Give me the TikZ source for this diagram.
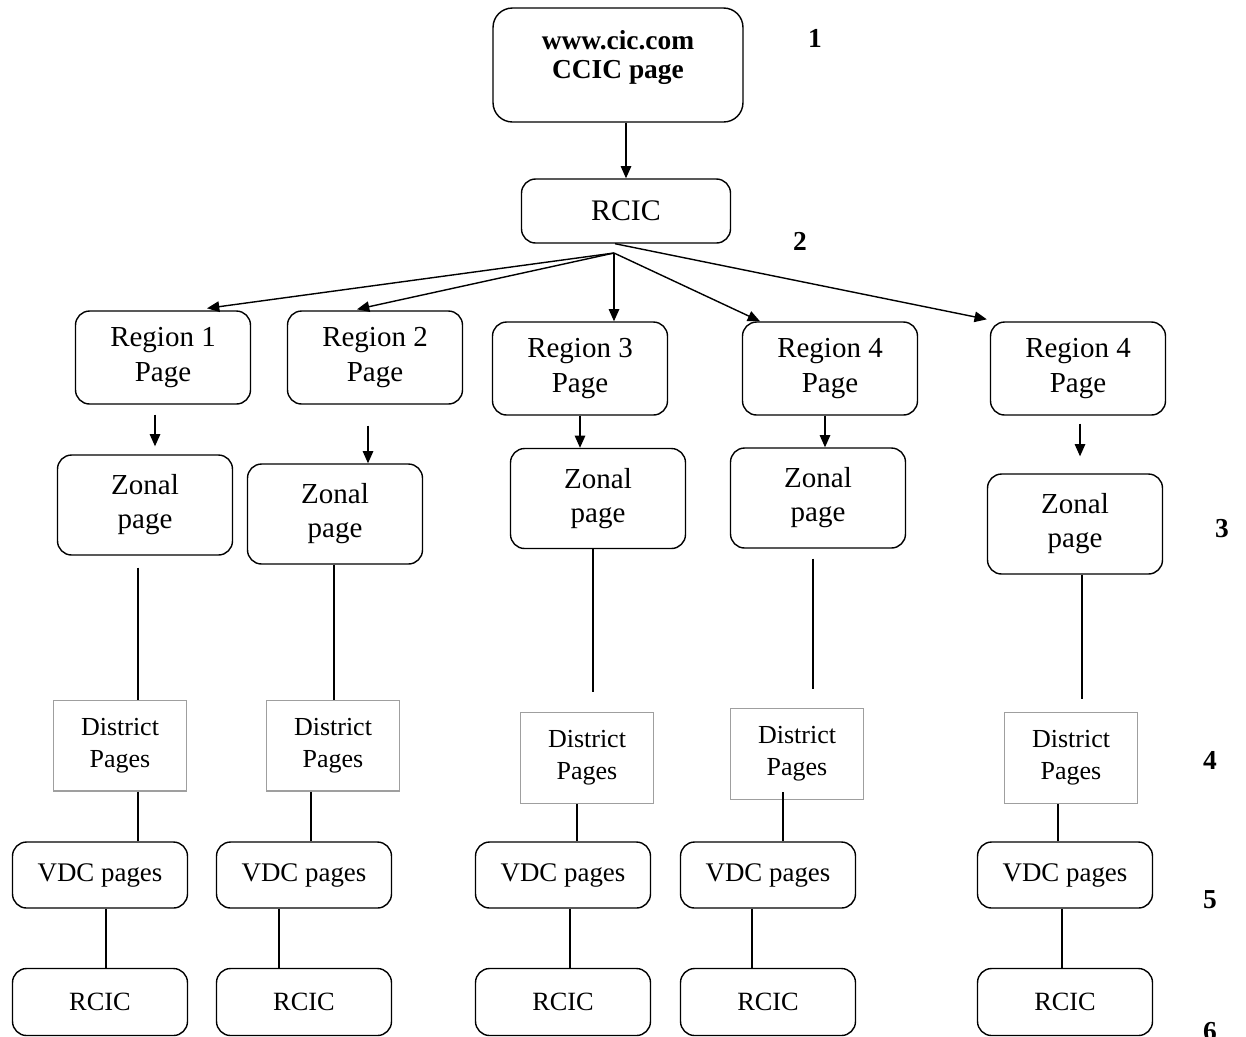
\documentclass[tikz,border=0pt]{standalone}
\usepackage{fontspec}
\setmainfont{Liberation Serif}
\usetikzlibrary{arrows.meta}

\newcommand{\coordPortal}{
\coordinate (P) at (618,65);
\coordinate (Q) at (626,211);
\coordinate (abanico) at (614,253);
}
\newcommand{\coordColumnas}{
\coordinate (R1) at (163,357.5);
\coordinate (R2) at (375,357.5);
\coordinate (R3) at (580,368.5);
\coordinate (R4) at (830,368.5);
\coordinate (R5) at (1078,368.5);
\coordinate (Z1) at (145,505);
\coordinate (Z2) at (335,514);
\coordinate (Z3) at (598,498.5);
\coordinate (Z4) at (818,498);
\coordinate (Z5) at (1075,524);
\coordinate (D1) at (120,745.5);
\coordinate (D2) at (333,745.5);
\coordinate (D3) at (587,758);
\coordinate (D4) at (797,754);
\coordinate (D5) at (1071,758);
\coordinate (V1) at (100,875);
\coordinate (V2) at (304,875);
\coordinate (V3) at (563,875);
\coordinate (V4) at (768,875);
\coordinate (V5) at (1065,875);
\coordinate (C1) at (100,1002);
\coordinate (C2) at (304,1002);
\coordinate (C3) at (563,1002);
\coordinate (C4) at (768,1002);
\coordinate (C5) at (1065,1002);
}
\tikzset{
pagina/.style={draw,rounded corners=8pt,line width=0.8pt,align=center,minimum width=3.5cm,font=\fontsize{16.5}{19.4}\selectfont},
portal/.style={pagina,rounded corners=11pt,minimum width=5cm,minimum height=2.28cm,text depth=12.5pt,font=\fontsize{15.6}{16.5}\selectfont\bfseries},
rcicsup/.style={pagina,minimum width=4.18cm,minimum height=1.28cm,font=\fontsize{17}{20}\selectfont},
region/.style={pagina,minimum height=1.86cm},
zonal/.style={pagina,minimum height=2cm},
distrito/.style={draw=gray!75,line width=0.6pt,align=center,minimum width=2.66cm,minimum height=1.82cm,font=\fontsize{14.8}{18.2}\selectfont},
vdc/.style={pagina,minimum height=1.32cm,font=\fontsize{15.3}{18}\selectfont},
rcic/.style={pagina,minimum height=1.34cm,font=\fontsize{15}{18}\selectfont},
flecha/.style={-{Triangle[length=7pt,width=6pt]},line width=0.8pt},
linea/.style={line width=0.8pt},
nivel/.style={font=\fontsize{15.6}{18}\selectfont\bfseries}
}

\begin{document}
\begin{tikzpicture}[x=0.02cm,y=-0.02cm]
    \clip (0,0) rectangle (1246,1036);
    \coordPortal
    \coordColumnas

    \node[portal] (p) at (P) {www.cic.com\\CCIC page};
    \node[rcicsup] (q) at (Q) {RCIC};
    \foreach \i/\k in {1/1,2/2,3/3,4/4,5/4}{
        \node[region] (r\i) at (R\i) {Region \k\\Page};
        \node[zonal] (z\i) at (Z\i) {Zonal\\page};
        \node[distrito] (d\i) at (D\i) {District\\Pages};
        \node[vdc] (v\i) at (V\i) {VDC pages};
        \node[rcic] (c\i) at (C\i) {RCIC};
    }

    % niveles
    \node[nivel] (n1) at (815,38) {1};
    \node[nivel] (n2) at (800,241) {2};
    \node[nivel] (n3) at (1222,529) {3};
    \node[nivel] (n4) at (1210,760) {4};
    \node[nivel] (n5) at (1210,900) {5};
    \node[nivel] (n6) at (1210,1032) {6};

    \draw[flecha] (p.south -| q.north) -- (q.north);
    \draw[flecha] (abanico) -- ([xshift=0.88cm,yshift=0.04cm]r1.north);
    \draw[flecha] (abanico) -- ([xshift=-0.36cm,yshift=0.02cm]r2.north);
    \draw[flecha] (abanico) -- (abanico |- r3.north);
    \draw[flecha] (abanico) -- ([xshift=-1.4cm]r4.north);
    \draw[flecha] ([xshift=-0.22cm]q.south) -- ([xshift=-0.06cm,yshift=0.04cm]r5.north west);

    % region -> zonal
    \foreach \i/\dx/\ga/\gb in {1/-0.16/0.2/0.16,2/-0.14/0.42/0,3/0/0/0,4/-0.1/0/0,5/0.04/0.16/0.34}{
        \draw[flecha,shorten <=\ga cm,shorten >=\gb cm] ([xshift=\dx cm]r\i.south) -- ([xshift=\dx cm]r\i.south |- z\i.north);
    }
    % zonal -> distrito
    \foreach \i/\dx/\ga/\gb in {1/-0.14/0.24/0,2/-0.02/0/0,3/-0.1/0/0.4,4/-0.1/0.2/0.38,5/0.14/0/0.26}{
        \draw[linea,shorten <=\ga cm,shorten >=\gb cm] ([xshift=\dx cm]z\i.south) -- ([xshift=\dx cm]z\i.south |- d\i.north);
    }
    % distrito -> vdc
    \foreach \i/\dx/\ga in {1/0.36/0,2/-0.44/0,3/-0.2/0,4/-0.28/-0.16,5/-0.26/0}{
        \draw[linea,shorten <=\ga cm] ([xshift=\dx cm]d\i.south) -- ([xshift=\dx cm]d\i.south |- v\i.north);
    }
    % vdc -> rcic
    \foreach \i/\dx in {1/0.12,2/-0.5,3/0.14,4/-0.32,5/-0.06}{
        \draw[linea] ([xshift=\dx cm]v\i.south) -- ([xshift=\dx cm]v\i.south |- c\i.north);
    }
\end{tikzpicture}
\end{document}
